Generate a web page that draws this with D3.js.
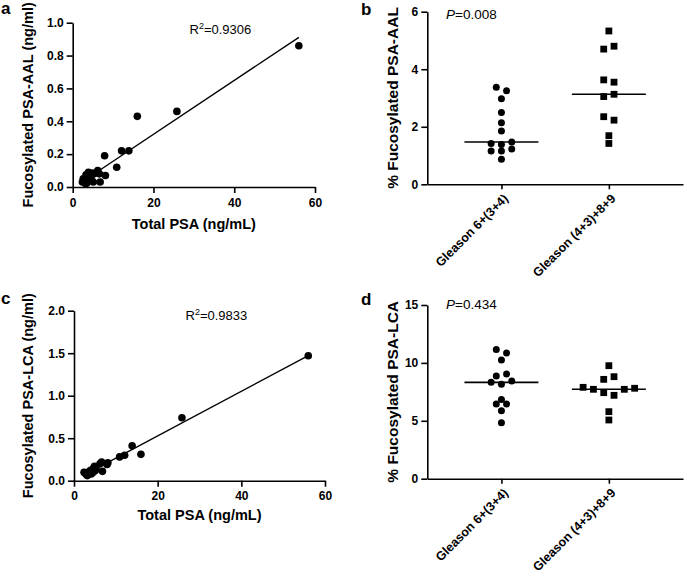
<!DOCTYPE html>
<html>
<head>
<meta charset="utf-8">
<script src="https://cdn.jsdelivr.net/npm/d3@7"></script>
<style>
  body { margin: 0; background: #fff; }
  svg { display: block; font-family: "Liberation Sans", Arial, sans-serif; }
  .axis path, .axis line { stroke: #000; stroke-width: 1.6; }
  .axis text { font-size: 12px; font-weight: bold; fill: #000; }
</style>
</head>
<body>
<script>
// total PSA per patient (shared by panels a and c)
var totalPsa = [56, 25.8, 16.0, 13.9, 12.1, 10.9, 7.9, 8.1, 6.2, 6.8, 6.6, 5.3, 4.9, 3.9, 4.5, 3.3, 2.6, 3.0, 4.1, 5.1, 3.5, 2.4, 4.6, 3.2];
var fucAal = [0.86, 0.46, 0.43, 0.22, 0.22, 0.12, 0.19, 0.07, 0.10, 0.03, 0.08, 0.08, 0.085, 0.09, 0.06, 0.075, 0.05, 0.035, 0.045, 0.03, 0.025, 0.03, 0.04, 0.02];
var fucLca = [1.47, 0.74, 0.31, 0.41, 0.30, 0.28, 0.19, 0.21, 0.20, 0.11, 0.22, 0.16, 0.17, 0.12, 0.14, 0.10, 0.09, 0.07, 0.08, 0.12, 0.09, 0.10, 0.10, 0.06];

var groups = ["Gleason 6+(3+4)", "Gleason (4+3)+8+9"];
var pctAalLow = [3.37, 3.25, 2.97, 2.50, 2.14, 1.85, 1.42, 1.38, 1.47, 1.16, 1.16, 1.23, 0.87];
var pctAalHigh = [5.33, 4.70, 4.80, 3.63, 3.55, 3.05, 3.13, 2.35, 2.23, 1.69, 1.42];
var pctLcaLow = [11.15, 10.85, 10.25, 8.87, 9.04, 8.32, 8.15, 8.43, 6.85, 6.45, 6.45, 5.87, 4.84];
var pctLcaHigh = [9.76, 8.58, 8.81, 7.89, 7.72, 7.43, 7.20, 7.72, 7.81, 5.79, 5.07];

var r2Aal = "0.9306", r2Lca = "0.9833";
var pAal = "0.008", pLca = "0.434";

var svg = d3.select("body").append("svg")
    .attr("width", 685)
    .attr("height", 575);

function panelLetter(x, y, t) {
    svg.append("text").attr("x", x).attr("y", y)
        .style("font-size", "17px").style("font-weight", "bold")
        .text(t);
}

function yTitle(x, y, t, size) {
    svg.append("text")
        .attr("transform", "translate(" + x + "," + y + ") rotate(-90)")
        .attr("text-anchor", "middle")
        .style("font-size", size + "px").style("font-weight", "bold")
        .text(t);
}

function fitLine(xs, ys) {
    var mx = d3.mean(xs), my = d3.mean(ys);
    var sxy = 0, sxx = 0;
    for (var i = 0; i < xs.length; i++) {
        sxy += (xs[i] - mx) * (ys[i] - my);
        sxx += (xs[i] - mx) * (xs[i] - mx);
    }
    var slope = sxy / sxx;
    return {slope: slope, intercept: my - slope * mx};
}

function scatterPanel(opt) {
    var x = d3.scaleLinear().domain([0, 60]).range(opt.xr);
    var y = d3.scaleLinear().domain([0, opt.ymax]).range(opt.yr);

    svg.append("g").attr("class", "axis")
        .attr("transform", "translate(0," + opt.yr[0] + ")")
        .call(d3.axisBottom(x).tickValues([0, 20, 40, 60]).tickSize(6).tickSizeOuter(0).tickPadding(5));
    svg.append("g").attr("class", "axis")
        .attr("transform", "translate(" + opt.xr[0] + ",0)")
        .call(d3.axisLeft(y).tickValues(opt.yticks).tickFormat(d3.format(".1f")).tickSize(6).tickSizeOuter(0).tickPadding(3));

    var f = fitLine(totalPsa, opt.ys);
    var x0 = d3.min(totalPsa), x1 = d3.max(totalPsa);
    svg.append("line")
        .attr("x1", x(x0)).attr("y1", y(f.intercept + f.slope * x0))
        .attr("x2", x(x1)).attr("y2", y(f.intercept + f.slope * x1))
        .attr("stroke", "#000").attr("stroke-width", 1.4);

    svg.append("g").selectAll("circle")
        .data(totalPsa)
        .enter().append("circle")
        .attr("cx", function(d) { return x(d); })
        .attr("cy", function(d, i) { return y(opt.ys[i]); })
        .attr("r", 3.8)
        .attr("fill", "#000");

    var r2 = svg.append("text")
        .attr("x", opt.r2x).attr("y", opt.r2y)
        .style("font-size", "13px");
    r2.append("tspan").text("R");
    r2.append("tspan").attr("dy", -5).style("font-size", "9px").text("2");
    r2.append("tspan").attr("dy", 5).text("=" + opt.r2);

    svg.append("text")
        .attr("x", (opt.xr[0] + opt.xr[1]) / 2).attr("y", opt.xtY)
        .attr("text-anchor", "middle")
        .style("font-size", "14.5px").style("font-weight", "bold")
        .text("Total PSA (ng/mL)");
    yTitle(33, (opt.yr[0] + opt.yr[1]) / 2, opt.ytitle, 14.5);
}

// arrange the dots of a group in rows, like a scatter dot plot
function swarm(values, y, cx, step, gap) {
    var pts = values.map(function(v, i) { return {v: v, i: i, py: y(v)}; });
    var sorted = pts.slice().sort(function(a, b) { return a.py - b.py || a.i - b.i; });
    var rows = [], cur = [];
    sorted.forEach(function(p, k) {
        if (k > 0 && p.py - sorted[k - 1].py > gap) { rows.push(cur); cur = []; }
        cur.push(p);
    });
    rows.push(cur);
    rows.forEach(function(row) {
        row.sort(function(a, b) { return a.i - b.i; });
        row.forEach(function(p, k) { p.px = cx + (k - (row.length - 1) / 2) * step; });
    });
    return pts;
}

function dotPanel(opt) {
    var x = d3.scalePoint().domain(groups).range([427.3, 683]).padding(0.69);
    var y = d3.scaleLinear().domain([0, opt.ymax]).range(opt.yr);

    var xa = svg.append("g").attr("class", "axis")
        .attr("transform", "translate(0," + opt.yr[0] + ")")
        .call(d3.axisBottom(x).tickSize(5).tickSizeOuter(0));
    xa.selectAll("text")
        .attr("x", 0).attr("y", 0).attr("dy", 0)
        .attr("transform", "translate(7,15) rotate(-45)")
        .style("text-anchor", "end")
        .style("font-size", "12.5px");

    svg.append("g").attr("class", "axis")
        .attr("transform", "translate(427.3,0)")
        .call(d3.axisLeft(y).tickValues(opt.yticks).tickFormat(d3.format("d")).tickSize(6).tickSizeOuter(0).tickPadding(3));

    var sets = [opt.low, opt.high];
    sets.forEach(function(vals, gi) {
        var cx = x(groups[gi]);
        var pts = swarm(vals, y, cx, 10.3, 4.2);
        var g = svg.append("g");
        if (gi === 0) {
            g.selectAll("circle").data(pts).enter().append("circle")
                .attr("cx", function(d) { return d.px; })
                .attr("cy", function(d) { return d.py; })
                .attr("r", 3.5).attr("fill", "#000");
        } else {
            g.selectAll("rect").data(pts).enter().append("rect")
                .attr("x", function(d) { return d.px - 3.4; })
                .attr("y", function(d) { return d.py - 3.4; })
                .attr("width", 6.8).attr("height", 6.8).attr("fill", "#000");
        }
        var med = d3.median(vals);
        svg.append("line")
            .attr("x1", cx - 37).attr("x2", cx + 37)
            .attr("y1", y(med)).attr("y2", y(med))
            .attr("stroke", "#000").attr("stroke-width", 1.6);
    });

    var p = svg.append("text").attr("x", 446).attr("y", opt.pY).style("font-size", "13.5px");
    p.append("tspan").style("font-style", "italic").text("P");
    p.append("tspan").text("=" + opt.p);

    yTitle(398, (opt.yr[0] + opt.yr[1]) / 2, opt.ytitle, 15.5);
}

scatterPanel({
    ys: fucAal, ymax: 1, yticks: [0, 0.2, 0.4, 0.6, 0.8, 1.0],
    xr: [72.7, 315], yr: [187, 22.7],
    r2: r2Aal, r2x: 189.5, r2y: 33.5, xtY: 229,
    ytitle: "Fucosylated PSA-AAL (ng/ml)"
});
scatterPanel({
    ys: fucLca, ymax: 2, yticks: [0, 0.5, 1.0, 1.5, 2.0],
    xr: [74, 325], yr: [480.7, 310.7],
    r2: r2Lca, r2x: 185.5, r2y: 319.5, xtY: 520,
    ytitle: "Fucosylated PSA-LCA (ng/ml)"
});
dotPanel({
    low: pctAalLow, high: pctAalHigh, ymax: 6, yticks: [0, 2, 4, 6],
    yr: [184.3, 11.7], p: pAal, pY: 19,
    ytitle: "% Fucosylated PSA-AAL"
});
dotPanel({
    low: pctLcaLow, high: pctLcaHigh, ymax: 15, yticks: [0, 5, 10, 15],
    yr: [478.7, 305], p: pLca, pY: 309,
    ytitle: "% Fucosylated PSA-LCA"
});

panelLetter(1, 14, "a");
panelLetter(361, 15, "b");
panelLetter(1, 304, "c");
panelLetter(361, 305, "d");
</script>
</body>
</html>
